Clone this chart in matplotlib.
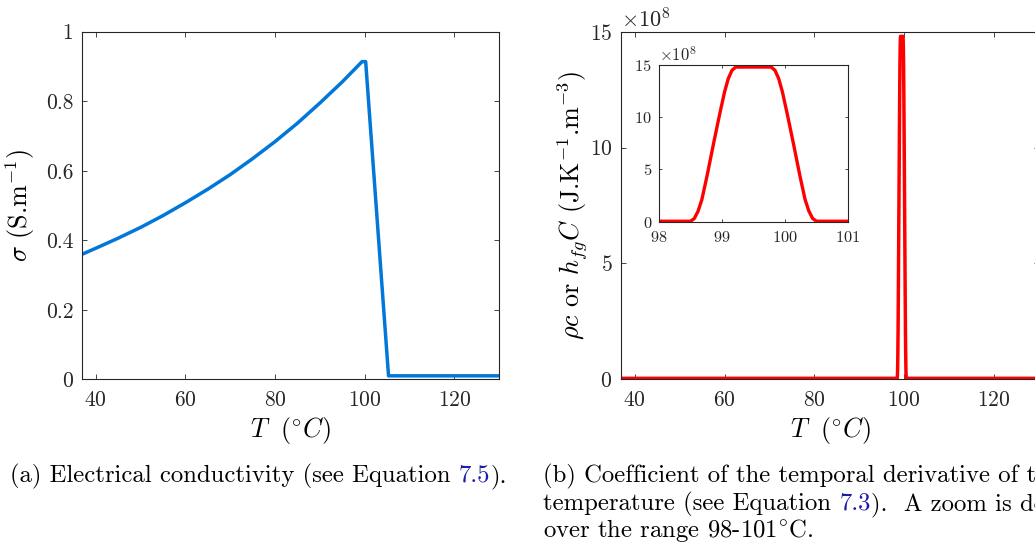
import numpy as np
import matplotlib
matplotlib.use('Agg')
import matplotlib.pyplot as plt

plt.rcParams['font.family'] = 'serif'
plt.rcParams['font.serif'] = ['cmr10', 'DejaVu Serif']
plt.rcParams['mathtext.fontset'] = 'cm'
plt.rcParams['axes.formatter.use_mathtext'] = True
plt.rcParams['axes.unicode_minus'] = False

# (a) electrical conductivity
T_sigma = [37, 40, 45, 50, 55, 60, 65, 70, 75, 80, 85, 90, 95, 99.4, 100.2, 105.3, 130]
sigma = [0.360, 0.377, 0.406, 0.437, 0.471, 0.508, 0.547, 0.589, 0.635, 0.684,
         0.737, 0.795, 0.856, 0.914, 0.914, 0.010, 0.010]

# (b) rho*c or h_fg*C, in units of 1e8 J/K/m3
T_coef = [37, 98.50, 98.56, 98.62, 98.68, 98.76, 98.86, 98.96, 99.04, 99.10, 99.16, 99.22,
          99.78, 99.84, 99.90, 99.96, 100.04, 100.14, 100.24, 100.32, 100.38, 100.44, 100.50, 130]
coef = [0.042, 0.042, 0.3, 1.0, 2.1, 4.3, 7.3, 10.2, 12.4, 13.7, 14.5, 14.8,
        14.8, 14.5, 13.7, 12.4, 10.2, 7.3, 4.3, 2.1, 1.0, 0.3, 0.042, 0.042]
coef = np.array(coef) * 1e8

blue = '#0077d9'
red = '#ff0000'
axcol = '#262626'
link = '#1c1ca8'
labsize = 18.8
capsize = 17.8

fig = plt.figure(figsize=(10.35, 5.46), dpi=100)


def style(ax, size, ticklen, xpad, ypad):
    for s in ax.spines.values():
        s.set_color(axcol)
        s.set_linewidth(0.8)
    ax.tick_params(direction='in', top=True, right=True, length=ticklen, width=0.6,
                   colors=axcol, labelcolor='#262626', labelsize=size)
    ax.tick_params(axis='x', pad=xpad)
    ax.tick_params(axis='y', pad=ypad)


# left plot
ax1 = fig.add_axes([0.0795, 0.3053, 0.4029, 0.6366])
ax1.plot(T_sigma, sigma, color=blue, lw=2.5)
ax1.set_xlim(37, 130)
ax1.set_ylim(0, 1)
ax1.set_xticks([40, 60, 80, 100, 120])
ax1.set_yticks([0, 0.2, 0.4, 0.6, 0.8, 1])
ax1.set_yticklabels(['0', '0.2', '0.4', '0.6', '0.8', '1'])
style(ax1, 15.5, 3.6, 8.0, 6.5)
ax1.set_xlabel(r'$T\ \ (^{\circ}C)$', fontsize=labsize)
ax1.set_ylabel(r'$\sigma$ (S.m$^{-1}$)', fontsize=labsize)
ax1.xaxis.set_label_coords(0.5, -0.103)
ax1.yaxis.set_label_coords(-0.108, 0.5)

# right plot
ax2 = fig.add_axes([0.6003, 0.3053, 0.4032, 0.6366])
ax2.plot(T_coef, coef, color=red, lw=2.5)
ax2.set_xlim(37, 130)
ax2.set_ylim(0, 15e8)
ax2.set_xticks([40, 60, 80, 100, 120])
ax2.set_yticks([0, 5e8, 10e8, 15e8])
ax2.ticklabel_format(axis='y', style='sci', scilimits=(8, 8))
style(ax2, 15.5, 3.6, 8.0, 6.5)
ax2.yaxis.get_offset_text().set_fontsize(16)
ax2.set_xlabel(r'$T\ \ (^{\circ}C)$', fontsize=labsize)
ax2.set_ylabel(r'$\rho c$ or $h_{fg}C$ (J.K$^{-1}$.m$^{-3}$)', fontsize=labsize)
ax2.xaxis.set_label_coords(0.5, -0.103)
ax2.yaxis.set_label_coords(-0.078, 0.5)

# inset zoom
ax3 = fig.add_axes([0.6367, 0.594, 0.1826, 0.287])
ax3.plot(T_coef, coef, color=red, lw=2.4)
ax3.set_xlim(98, 101)
ax3.set_ylim(0, 15e8)
ax3.set_xticks([98, 99, 100, 101])
ax3.set_yticks([0, 5e8, 10e8, 15e8])
ax3.ticklabel_format(axis='y', style='sci', scilimits=(8, 8))
style(ax3, 11.8, 2.2, 6.0, 5.0)
ax3.yaxis.get_offset_text().set_fontsize(12)


# captions, with the equation numbers in link colour
def caption_line(x, y, before, link_txt, after, size=capsize):
    r = fig.canvas.get_renderer()
    W = fig.bbox.width
    fig.text(x, y, before.rstrip(), fontsize=size, va='baseline')
    full = fig.text(0, 0, before + link_txt, fontsize=size, alpha=0)
    lk = fig.text(0, 0, link_txt, fontsize=size, alpha=0)
    wfull = full.get_window_extent(r).width / W
    wlk = lk.get_window_extent(r).width / W
    full.remove()
    lk.remove()
    fig.text(x + wfull - wlk, y, link_txt, fontsize=size, va='baseline', color=link)
    fig.text(x + wfull, y, after, fontsize=size, va='baseline')


caption_line(10 / 1035, 1 - 482 / 546, '(a) Electrical conductivity (see Equation ', '7.5', ').')
fig.text(543 / 1035, 1 - 482 / 546, '(b) Coefficient of the temporal derivative of the',
         fontsize=capsize, va='baseline')
caption_line(543 / 1035, 1 - 510 / 546, 'temperature (see Equation ', '7.3', ').  A zoom is done')
fig.text(543 / 1035, 1 - 537 / 546, r'over the range 98-101$^{\circ}$C.', fontsize=capsize, va='baseline')

fig.savefig('out.png', dpi=100)
